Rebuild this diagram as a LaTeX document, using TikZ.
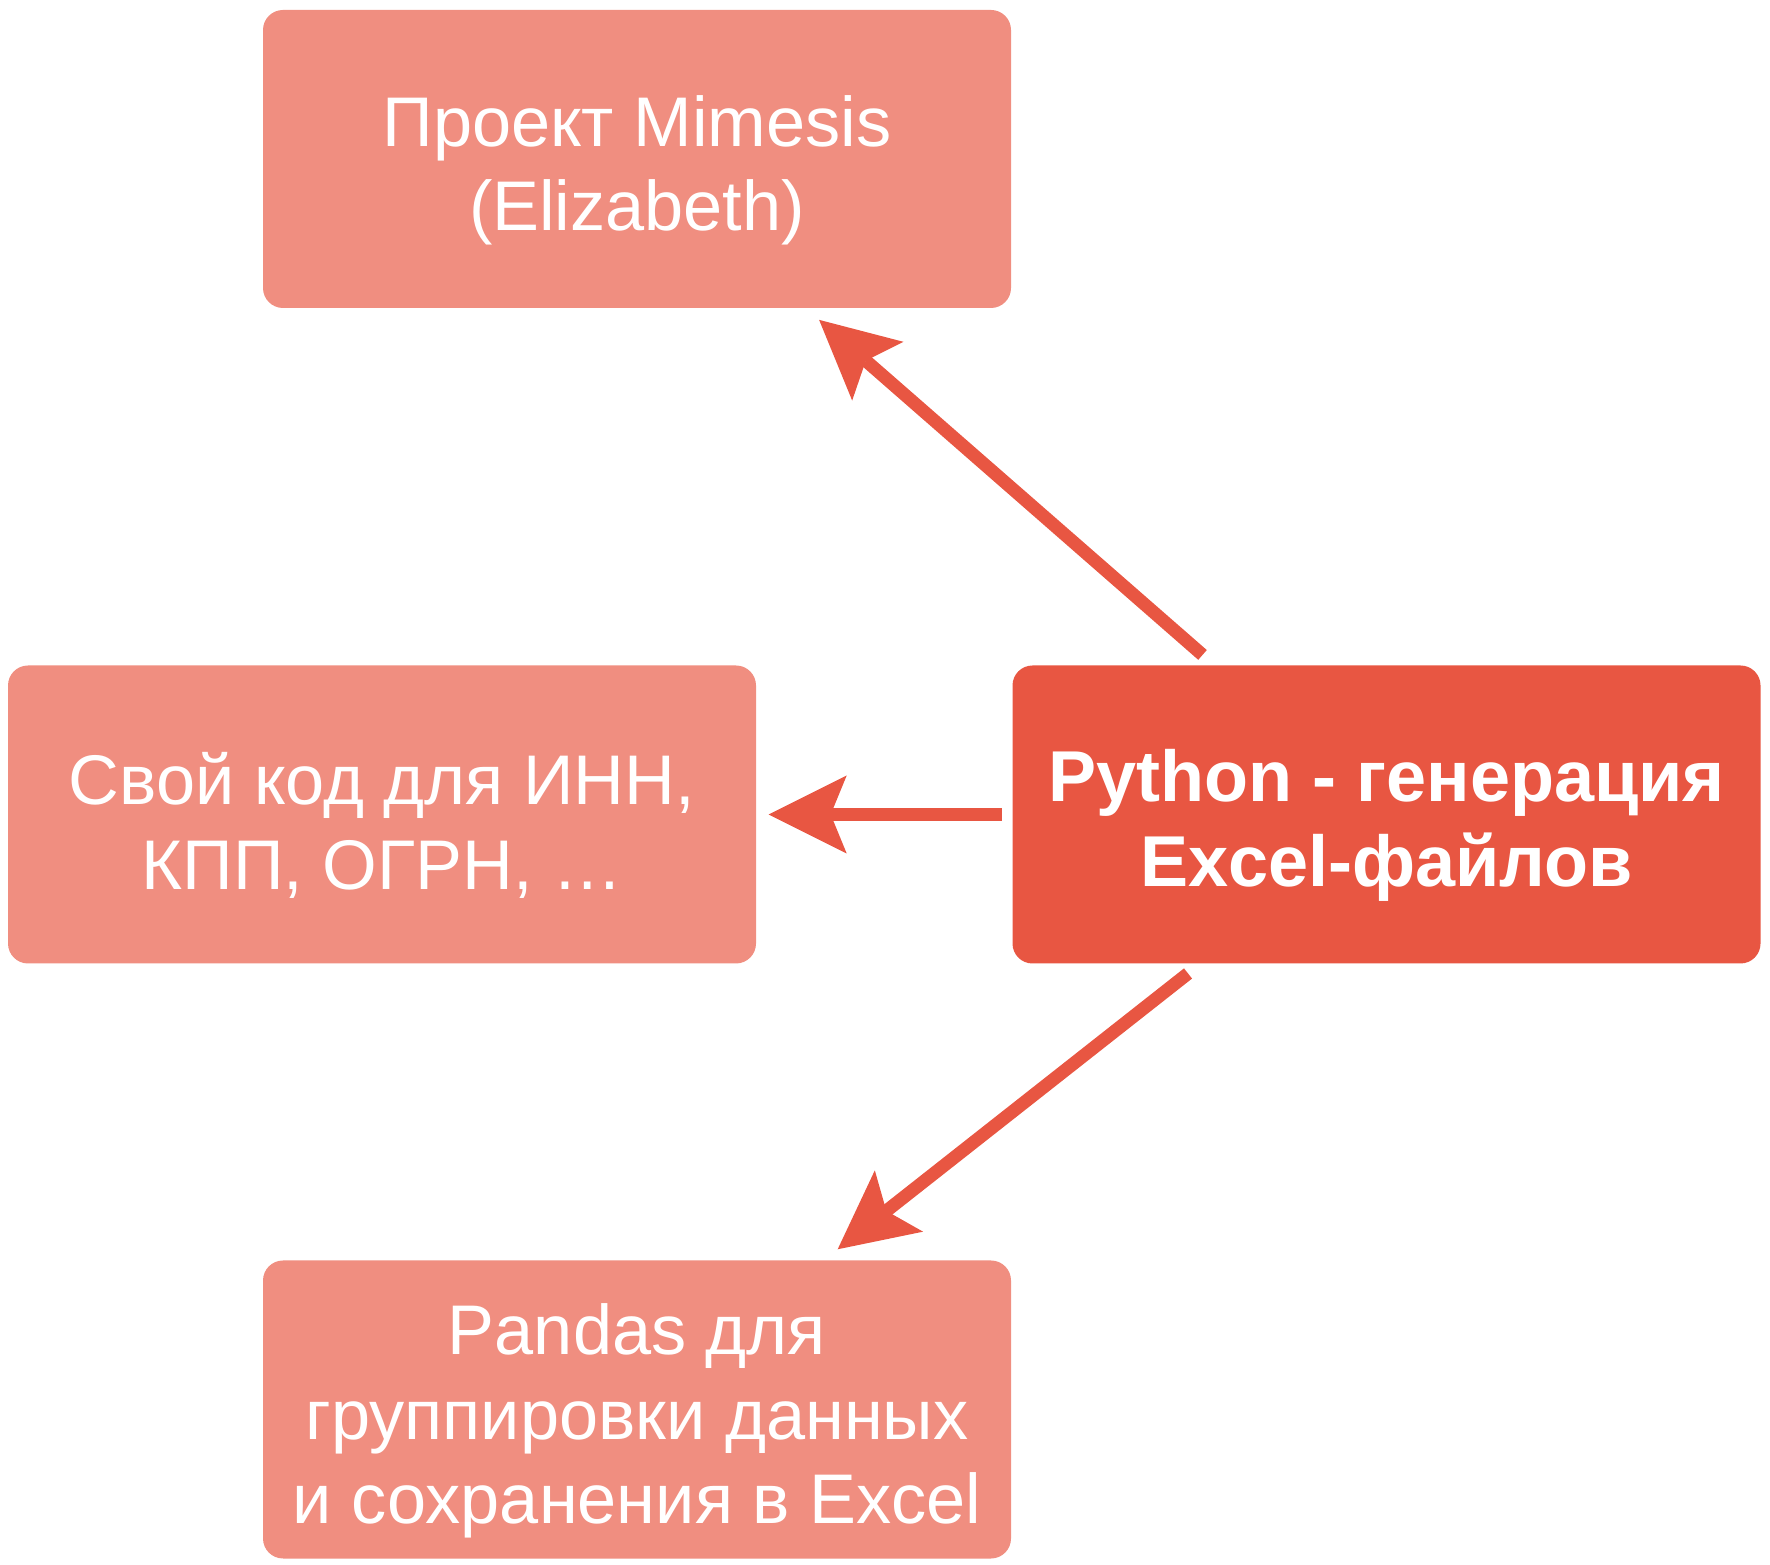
\documentclass[tikz,border=0pt]{standalone}
\usepackage{fontspec}
\setmainfont{Liberation Sans}
\usetikzlibrary{arrows.meta}
\definecolor{boxlight}{RGB}{240,142,128}
\definecolor{boxdark}{RGB}{232,86,66}
\newcommand\boxstrut{\rule{0pt}{21pt}}

\begin{document}
\begin{tikzpicture}[
  box/.style={rounded corners=0.2cm, minimum width=7.48cm, minimum height=2.98cm,
    inner sep=0pt, align=center, text=white, font=\fontsize{20}{24}\selectfont},
  lightbox/.style={box, fill=boxlight},
  mainbox/.style={box, fill=boxdark, font=\fontsize{20.5}{24}\selectfont\bfseries},
  link/.style={draw=boxdark, line width=0.13cm, shorten <=0.15cm, shorten >=0.17cm,
    -{Stealth[length=0.78cm, width=0.78cm, inset=0.16cm, line width=0pt]}}
]
\useasboundingbox (0,0) rectangle (17.7,15.65);
\node[lightbox] (mimesis) at (6.37,14.06) {\boxstrut Проект Mimesis\\(Elizabeth)};
\node[lightbox] (code) at (3.82,7.505) {\boxstrut Свой код для ИНН,\\КПП, ОГРН, \dots};
\node[mainbox] (python) at (13.865,7.505) {\boxstrut Python - генерация\\Excel-файлов};
\node[lightbox] (pandas) at (6.37,1.555) {\boxstrut Pandas для\\группировки данных\\и сохранения в Excel};
\draw[link] ([xshift=2.02cm]python.north west) -- ([xshift=5.44cm]mimesis.south west);
\draw[link, shorten <=0.1cm, shorten >=0.12cm] (python.west) -- (code.east);
\draw[link] ([xshift=1.88cm]python.south west) -- ([xshift=5.62cm]pandas.north west);
\end{tikzpicture}
\end{document}
